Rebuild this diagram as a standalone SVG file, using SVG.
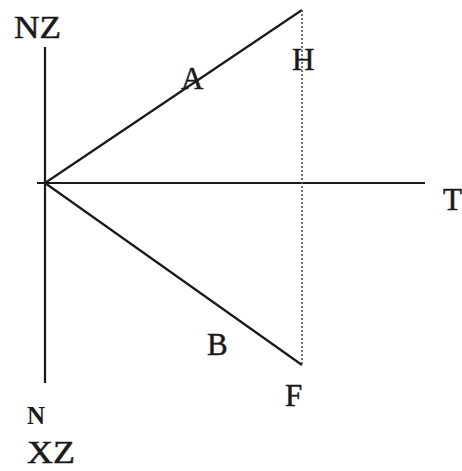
<svg xmlns="http://www.w3.org/2000/svg" width="462" height="471" viewBox="0 0 462 471">
<style>
.ln{stroke:#1a1a1a;stroke-width:2.2;fill:none;stroke-linecap:butt}
.dot{stroke:#555;stroke-width:1.6;stroke-dasharray:2 2;fill:none}
.lb{font-family:"Liberation Serif","Times New Roman",serif;font-size:31px;fill:#1a1a1a;stroke:#1a1a1a;stroke-width:0.5}
.sm{font-family:"Liberation Serif","Times New Roman",serif;font-size:25px;font-weight:bold;fill:#1a1a1a}
</style>
<rect width="462" height="471" fill="#fff"/>
<g id="connectors">
<line class="ln" x1="45" y1="47" x2="45" y2="383"/>
<line class="ln" x1="37" y1="183" x2="425" y2="183"/>
<line class="ln" x1="45" y1="183" x2="302" y2="10"/>
<line class="ln" x1="45" y1="183" x2="302" y2="365"/>
<line class="dot" x1="302" y1="10" x2="302" y2="365"/>
</g>
<g id="NZ"><text class="lb" x="14" y="38" textLength="47" lengthAdjust="spacingAndGlyphs">NZ</text></g>
<g id="A"><text class="lb" x="181" y="89">A</text></g>
<g id="H"><text class="lb" x="292" y="70">H</text></g>
<g id="T"><text class="lb" x="443" y="210">T</text></g>
<g id="B"><text class="lb" x="207" y="355">B</text></g>
<g id="F"><text class="lb" x="285" y="406">F</text></g>
<g id="N"><text class="sm" x="27" y="424">N</text></g>
<g id="XZ"><text class="lb" x="27" y="463" textLength="48" lengthAdjust="spacingAndGlyphs">XZ</text></g>
</svg>
